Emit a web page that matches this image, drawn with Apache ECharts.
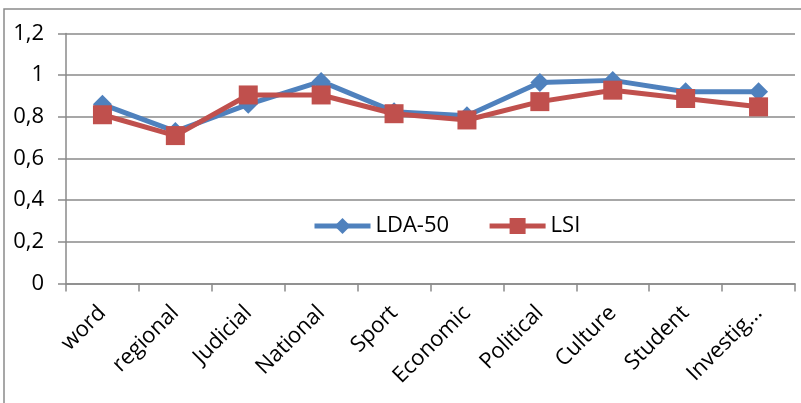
<!DOCTYPE html>
<html>
<head>
<meta charset="utf-8">
<script src="https://cdn.jsdelivr.net/npm/echarts@6/dist/echarts.min.js"></script>
<style>
  html, body { margin: 0; padding: 0; background: #fff; }
  #chart { width: 801px; height: 403px; }
</style>
</head>
<body>
<div id="chart"></div>
<script>
// Topic categories on the x axis
const categories = ['word', 'regional', 'Judicial', 'National', 'Sport', 'Economic', 'Political', 'Culture', 'Student', 'Investig…'];
// Scores per model
const lda50 = [0.86, 0.73, 0.86, 0.97, 0.825, 0.805, 0.965, 0.975, 0.92, 0.92];
const lsi = [0.81, 0.71, 0.905, 0.905, 0.815, 0.785, 0.873, 0.928, 0.888, 0.848];
// Value-axis tick labels (decimal comma)
const yTickLabels = ['0', '0,2', '0,4', '0,6', '0,8', '1', '1,2'];

const FONT = 'Open Sans';
const GRID_GRAY = '#8a8a8a';

const chart = echarts.init(document.getElementById('chart'), null, { renderer: 'canvas' });

chart.setOption({
  animation: false,
  backgroundColor: '#ffffff',
  textStyle: { fontFamily: FONT },
  graphic: [{
    type: 'rect',
    shape: { x: 4, y: 9, width: 830, height: 430 },
    style: { fill: 'none', stroke: GRID_GRAY, lineWidth: 1.5 },
    silent: true,
    z: -10
  }],
  grid: { left: 66, right: 6, top: 33.5, bottom: 119.5, containLabel: false },
  legend: {
    left: 312,
    top: 215,
    padding: 0,
    itemWidth: 56,
    itemHeight: 20,
    itemGap: 38,
    lineStyle: { width: 5 },
    textStyle: { fontFamily: FONT, fontSize: 22, color: '#000' },
    data: ['LDA-50', 'LSI']
  },
  xAxis: {
    type: 'category',
    data: categories,
    boundaryGap: true,
    axisLine: { show: true, lineStyle: { color: GRID_GRAY, width: 1.5 } },
    axisTick: { show: true, length: 8, alignWithLabel: false, lineStyle: { color: GRID_GRAY, width: 1.5 } },
    axisLabel: {
      interval: 0,
      rotate: 45,
      margin: 26,
      fontFamily: FONT,
      fontSize: 22,
      color: '#000'
    },
    splitLine: { show: false }
  },
  yAxis: {
    type: 'value',
    min: 0,
    max: 1.2,
    interval: 0.2,
    axisLine: { show: true, lineStyle: { color: GRID_GRAY, width: 1.5 } },
    axisTick: { show: true, length: 8, inside: false, lineStyle: { color: GRID_GRAY, width: 1.5 } },
    axisLabel: {
      margin: 22,
      fontFamily: FONT,
      fontSize: 22,
      color: '#000',
      formatter: function (v) { return yTickLabels[Math.round(v / 0.2)]; }
    },
    splitLine: { show: true, lineStyle: { color: GRID_GRAY, width: 1.5 } }
  },
  series: [
    {
      name: 'LDA-50',
      type: 'line',
      data: lda50,
      symbol: 'diamond',
      symbolSize: 19,
      itemStyle: { color: '#4F81BD' },
      lineStyle: { color: '#4F81BD', width: 5 },
      z: 2
    },
    {
      name: 'LSI',
      type: 'line',
      data: lsi,
      symbol: 'rect',
      symbolSize: 19,
      itemStyle: { color: '#C0504D' },
      lineStyle: { color: '#C0504D', width: 5 },
      z: 3
    }
  ]
});
</script>
</body>
</html>
